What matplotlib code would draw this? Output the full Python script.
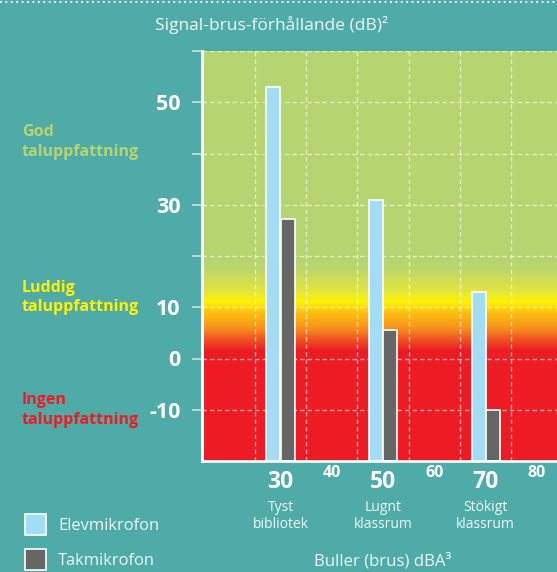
import matplotlib
matplotlib.use("Agg")
import matplotlib.pyplot as plt
import numpy as np
from matplotlib.colors import LinearSegmentedColormap
from matplotlib.transforms import blended_transform_factory
from matplotlib.patches import Rectangle
from matplotlib.lines import Line2D

# ---------------- data ----------------
noise_levels = [30, 50, 70]                       # dBA, group centres
environments = ["Tyst\nbibliotek", "Lugnt\nklassrum", "Stökigt\nklassrum"]
series_names = ["Elevmikrofon", "Takmikrofon"]
student_mic = [53, 31, 13]                        # SNR dB
ceiling_mic = [27.3, 5.6, -10]                    # SNR dB
minor_x_labels = [40, 60, 80]
y_ticks = [60, 50, 40, 30, 20, 10, 0, -10]
y_tick_labels = ["", "50", "", "30", "", "10", "0", "-10"]
zone_names = ["God\ntaluppfattning", "Luddig\ntaluppfattning", "Ingen\ntaluppfattning"]
zone_levels = [42.2, 11.9, -10.1]
title = "Signal-brus-förhållande (dB)²"
x_title = "Buller (brus) dBA³"

# ---------------- style ----------------
BG = "#4eaba7"
GREEN = "#b6d570"
YELLOW = "#fff200"
RED = "#ed1c24"
LIGHT_BLUE = "#a3dcf5"
DARK_GREY = "#666666"
TEXT = "#eef7f5"
series_colors = [LIGHT_BLUE, DARK_GREY]
zone_colors = [GREEN, YELLOW, RED]
FONT = ["Open Sans", "DejaVu Sans"]
plt.rcParams["font.family"] = FONT

W, H = 557, 572
fig = plt.figure(figsize=(W / 100, H / 100), dpi=100, facecolor=BG)

ax_left, ax_right = 201.5 / W, 1.0
ax_bottom, ax_top = 1 - 461 / H, 1 - 51 / H
ax = fig.add_axes([ax_left, ax_bottom, ax_right - ax_left, ax_top - ax_bottom])
ax.set_facecolor(BG)

XMIN = 14.6
XMAX = XMIN + (W - 201.5) / 5.13
YMIN, YMAX = -20, 60
ax.set_xlim(XMIN, XMAX)
ax.set_ylim(YMIN, YMAX)

# gradient background (value -> colour)
stops = [(-20, RED), (1.5, RED), (3.5, "#f04e23"), (6, "#f7941d"),
         (9, "#fdc20e"), (11, YELLOW), (13, "#e3e73c"), (17.5, "#bcd66b"),
         (20, GREEN), (60, GREEN)]
cmap = LinearSegmentedColormap.from_list(
    "snr", [((v - YMIN) / (YMAX - YMIN), c) for v, c in stops])
grad = np.linspace(0, 1, 800).reshape(-1, 1)
ax.imshow(grad, cmap=cmap, origin="lower", aspect="auto",
          extent=(XMIN, XMAX, YMIN, YMAX), zorder=0, interpolation="bilinear")

# grid
grid_kw = dict(color="white", alpha=0.6, lw=1.0, ls=(0, (3.2, 2.2)), zorder=1)
for gx in np.arange(25, 90, 10):
    ax.axvline(gx, **grid_kw)
for gy in y_ticks:
    ax.axhline(gy, **grid_kw)

# bars
width = 2.73
offsets = [-1.37, 1.37]
for vals, col, off in zip([student_mic, ceiling_mic], series_colors, offsets):
    x = np.array(noise_levels) + off
    heights = np.array(vals) - YMIN
    ax.bar(x, heights, width=width, bottom=YMIN, color=col,
           edgecolor="white", linewidth=1.2, zorder=3)

# spines / ticks
for s in ["top", "right"]:
    ax.spines[s].set_visible(False)
ax.spines["left"].set_color("white")
ax.spines["left"].set_linewidth(2.2)
ax.spines["bottom"].set_color("white")
ax.spines["bottom"].set_linewidth(1.9)
ax.spines["left"].set_zorder(5)
ax.spines["bottom"].set_zorder(5)

ax.set_yticks(y_ticks)
ax.set_yticklabels(y_tick_labels, fontsize=15.5, fontweight="bold", color="white")
ax.tick_params(axis="y", length=7.2, width=1.1, color="#d8e8e3", pad=8)
ax.set_xticks([])

# x labels
tr = blended_transform_factory(ax.transData, fig.transFigure)
for x, env in zip(noise_levels, environments):
    ax.text(x, 1 - 481.5 / H, str(x), transform=tr, ha="center", va="center",
            fontsize=16.5, fontweight="bold", color="white")
    ax.text(x, 1 - 516 / H, env, transform=tr, ha="center", va="center",
            fontsize=10, color=TEXT, linespacing=1.2)
for x in minor_x_labels:
    ax.text(x, 1 - 473 / H, str(x), transform=tr, ha="center", va="center",
            fontsize=11.5, fontweight="bold", color="white")
ax.text(50, 1 - 561 / H, x_title, transform=tr, ha="center", va="center",
        fontsize=12.1, color=TEXT)

# zone labels
trz = blended_transform_factory(fig.transFigure, ax.transData)
for name, lvl, col in zip(zone_names, zone_levels, zone_colors):
    ax.text(22 / W, lvl, name, transform=trz, ha="left", va="center",
            fontsize=11.5, fontweight="bold", color=col, linespacing=1.3)

# title
fig.text(155 / W, 1 - 24.5 / H, title, ha="left", va="center",
         fontsize=12.5, color=TEXT)

# top dotted line
fig.add_artist(Line2D([0, 1], [1 - 2 / H, 1 - 2 / H], transform=fig.transFigure,
                      color="white", lw=1.3, ls=(0, (1, 2))))

# legend
for i, (name, col) in enumerate(zip(series_names, series_colors)):
    y0 = 514 + i * 35
    fig.add_artist(Rectangle((25 / W, 1 - (y0 + 21) / H), 21 / W, 21 / H,
                             transform=fig.transFigure, facecolor=col,
                             edgecolor="white", lw=1.2))
    fig.text(58 / W, 1 - (y0 + 12) / H, name, ha="left", va="center",
             fontsize=11.9, color=TEXT)

fig.savefig("out.png", dpi=100, facecolor=BG)
